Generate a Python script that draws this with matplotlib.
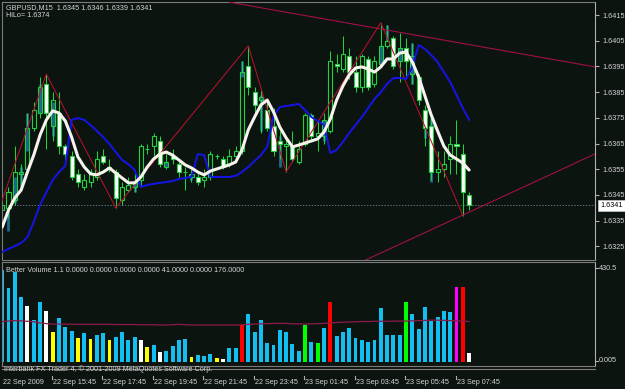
#!/usr/bin/env python3
import matplotlib
matplotlib.use("Agg")
import matplotlib.pyplot as plt
import matplotlib.transforms as mtransforms
from matplotlib.patches import Rectangle
from matplotlib.lines import Line2D

# ---------------- data (GBPUSD M15, bar 0 = 22 Sep 13:45) ----------------

opens = [1.6339, 1.6340, 1.6343, 1.6353, 1.6355, 1.6371, 1.6377, 1.6388, 1.6372, 1.6377,
         1.6364, 1.6360, 1.6353, 1.6348, 1.6350, 1.6352, 1.6360, 1.6356, 1.6354, 1.6343,
         1.6347, 1.6348, 1.6351, 1.6363, 1.6364, 1.6366, 1.6356, 1.6360, 1.6357, 1.6354,
         1.6352, 1.6352, 1.6351, 1.6352, 1.6360, 1.6359, 1.6357, 1.6360, 1.6362, 1.6395,
         1.6385, 1.6382, 1.6378, 1.6372, 1.6366, 1.6364, 1.6364, 1.6358, 1.6365, 1.6376,
         1.6368, 1.6368, 1.6370, 1.6396, 1.6394, 1.6399, 1.6393, 1.6387, 1.6398, 1.6388,
         1.6396, 1.6403, 1.6406, 1.6397, 1.6402, 1.6392, 1.6391, 1.6378, 1.6372, 1.6354,
         1.6355, 1.6359, 1.6365, 1.6361, 1.6345]
highs = [1.6349, 1.6348, 1.6364, 1.6357, 1.6377, 1.6381, 1.6391, 1.6392, 1.6385, 1.6385,
         1.6365, 1.6362, 1.6355, 1.6353, 1.6355, 1.6362, 1.6363, 1.6359, 1.6355, 1.6350,
         1.6352, 1.6354, 1.6365, 1.6365, 1.6369, 1.6368, 1.6362, 1.6363, 1.6359, 1.6356,
         1.6355, 1.6354, 1.6355, 1.6362, 1.6361, 1.6360, 1.6363, 1.6364, 1.6397, 1.6403,
         1.6387, 1.6386, 1.6382, 1.6379, 1.6370, 1.6368, 1.6370, 1.6366, 1.6377, 1.6377,
         1.6374, 1.6377, 1.6401, 1.6400, 1.6407, 1.6402, 1.6399, 1.6400, 1.6399, 1.6399,
         1.6412, 1.6411, 1.6407, 1.6408, 1.6406, 1.6404, 1.6392, 1.6380, 1.6375, 1.6362,
         1.6362, 1.6368, 1.6374, 1.6365, 1.6346]
lows = [1.6330, 1.6336, 1.6341, 1.6348, 1.6353, 1.6370, 1.6375, 1.6363, 1.6366, 1.6361,
        1.6359, 1.6351, 1.6348, 1.6347, 1.6348, 1.6351, 1.6357, 1.6354, 1.6340, 1.6341,
        1.6346, 1.6346, 1.6348, 1.6361, 1.6360, 1.6356, 1.6355, 1.6357, 1.6352, 1.6347,
        1.6350, 1.6349, 1.6348, 1.6351, 1.6359, 1.6355, 1.6356, 1.6359, 1.6361, 1.6384,
        1.6377, 1.6369, 1.6370, 1.6360, 1.6359, 1.6354, 1.6358, 1.6357, 1.6364, 1.6366,
        1.6362, 1.6365, 1.6369, 1.6393, 1.6393, 1.6390, 1.6385, 1.6385, 1.6386, 1.6387,
        1.6395, 1.6402, 1.6394, 1.6389, 1.6390, 1.6388, 1.6380, 1.6364, 1.6351, 1.6350,
        1.6352, 1.6353, 1.6353, 1.6337, 1.6339]
closes = [1.6341, 1.6346, 1.6354, 1.6354, 1.6371, 1.6378, 1.6387, 1.6377, 1.6382, 1.6364,
          1.6361, 1.6352, 1.6350, 1.6351, 1.6353, 1.6359, 1.6358, 1.6355, 1.6344, 1.6348,
          1.6349, 1.6350, 1.6364, 1.6363, 1.6368, 1.6357, 1.6358, 1.6359, 1.6354, 1.6354,
          1.6353, 1.6350, 1.6352, 1.6361, 1.6360, 1.6356, 1.6360, 1.6362, 1.6393, 1.6387,
          1.6380, 1.6383, 1.6371, 1.6362, 1.6365, 1.6365, 1.6359, 1.6363, 1.6376, 1.6368,
          1.6369, 1.6374, 1.6397, 1.6395, 1.6400, 1.6393, 1.6387, 1.6399, 1.6387, 1.6397,
          1.6403, 1.6405, 1.6395, 1.6402, 1.6397, 1.6399, 1.6382, 1.6371, 1.6354, 1.6355,
          1.6357, 1.6365, 1.6364, 1.6346, 1.6341]

# steel-blue overlay bits seen on some bars
teal_bars = [1, 2, 3, 4, 6, 8, 21, 26, 30, 38, 41, 44, 51, 60, 61, 63, 65, 67, 68]
teal_lo = [1.6331, 1.6342, 1.6348, 1.6362, 1.6377, 1.6368, 1.6346, 1.6356, 1.6351, 1.6391,
           1.6370, 1.6356, 1.6366, 1.6395, 1.6405, 1.6397, 1.6388, 1.6367, 1.6350]
teal_hi = [1.6339, 1.6352, 1.6356, 1.6377, 1.6388, 1.6381, 1.6350, 1.6358, 1.6353, 1.6397,
           1.6384, 1.6368, 1.6374, 1.6403, 1.6411, 1.6402, 1.6404, 1.6372, 1.6375]

# white smoothed MA
white_ma = [1.63325, 1.63391, 1.63438, 1.63469, 1.63539, 1.63605, 1.63683, 1.63742, 1.63777, 1.63769,
            1.63738, 1.63675, 1.63598, 1.63559, 1.63532, 1.63528, 1.63539, 1.63555, 1.63535, 1.63516,
            1.63497, 1.63497, 1.63520, 1.63559, 1.63590, 1.63609, 1.63617, 1.63605, 1.63586, 1.63567,
            1.63555, 1.63539, 1.63528, 1.63543, 1.63551, 1.63559, 1.63567, 1.63578, 1.63625, 1.63703,
            1.63753, 1.63800, 1.63819, 1.63773, 1.63714, 1.63672, 1.63637, 1.63644, 1.63652, 1.63660,
            1.63668, 1.63695, 1.63745, 1.63819, 1.63874, 1.63917, 1.63944, 1.63948, 1.63940, 1.63928,
            1.63948, 1.63979, 1.63979, 1.64002, 1.64006, 1.63967, 1.63909, 1.63835, 1.63761, 1.63699,
            1.63640, 1.63605, 1.63590, 1.63574, 1.63547]

# blue HiLo line
hilo = [1.63228, 1.63240, 1.63251, 1.63263, 1.63286, 1.63345, 1.63411, 1.63461, 1.63508, 1.63539,
        1.63563, 1.63742, 1.63749, 1.63742, 1.63722, 1.63699, 1.63675, 1.63648, 1.63617, 1.63586,
        1.63570, 1.63547, 1.63481, 1.63489, 1.63493, 1.63497, 1.63500, 1.63504, 1.63512, 1.63516,
        1.63520, 1.63609, 1.63605, 1.63520, 1.63520, 1.63520, 1.63520, 1.63524, 1.63539, 1.63559,
        1.63582, 1.63605, 1.63637, 1.63757, 1.63792, 1.63796, 1.63800, 1.63804, 1.63780, 1.63753,
        1.63738, 1.63722, 1.63613, 1.63625, 1.63656, 1.63691, 1.63722, 1.63753, 1.63788, 1.63823,
        1.63850, 1.63882, 1.63905, 1.63905, 1.63901, 1.63948, 1.64033, 1.64018, 1.63994, 1.63967,
        1.63928, 1.63889, 1.63839, 1.63788, 1.63742]

zz_bars = [-2, 7, 18, 39, 45, 60, 73]
zz_prices = [1.6329, 1.6392, 1.6340, 1.6403, 1.6354, 1.6412, 1.6337]

upper_bars = [36, 94]
upper_prices = [1.6420, 1.63948]
lower_bars = [57, 94]
lower_prices = [1.6319, 1.6361]

bid = 1.6341
price_ticks = [1.6325, 1.6335, 1.6345, 1.6355, 1.6365, 1.6375, 1.6385, 1.6395, 1.6405, 1.6415]

volumes = [400, 320, 390, 283, 244, 183, 262, 222, 132, 193,
           154, 135, 106, 126, 99, 117, 126, 94, 109, 132,
           96, 109, 94, 64, 74, 44, 46, 70, 94, 101,
           23, 30, 28, 36, 16, 13, 61, 61, 161, 210,
           129, 183, 81, 74, 139, 132, 77, 49, 162, 86,
           84, 146, 260, 112, 132, 149, 103, 97, 86, 94,
           235, 116, 116, 116, 262, 207, 145, 241, 178, 197,
           222, 216, 325, 328, 41]
vol_codes = "bbbbwbbwyb" "bbybybbybb" "bbwybwbbbb" "ybbbywbbrb" "bbbbbbbbgb" \
            "gbrbbbbbbb" "bbbbgbbbbb" "bbmrw"
vol_ma = [176, 178, 180, 179, 177, 175, 170, 167, 165, 165,
          165, 164, 164, 164, 164, 164, 164, 164, 163, 163,
          163, 163, 162, 162, 162, 161, 161, 162, 164, 162,
          161, 161, 161, 161, 161, 161, 161, 161, 162, 164,
          165, 166, 167, 168, 168, 168, 166, 166, 165, 166,
          167, 168, 170, 172, 173, 174, 175, 176, 176, 177,
          177, 177, 178, 178, 178, 179, 180, 181, 182, 182,
          181, 180, 179, 178, 176]

date_bars = [8, 16, 24, 32, 40, 48, 56, 64, 72]
date_labels = ["22 Sep 15:45", "22 Sep 17:45", "22 Sep 19:45", "22 Sep 21:45", "22 Sep 23:45",
               "23 Sep 01:45", "23 Sep 03:45", "23 Sep 05:45", "23 Sep 07:45"]

# ---------------- style ----------------
W, H = 625, 389
BG = "#0c1410"
LIME = "#22d040"
TXT = "#d4d4d4"
FRAME = "#7c7c7c"
FS = 5.2
plt.rcParams["font.family"] = ["Liberation Sans", "DejaVu Sans"]

VCOL = {"b": "#12bff0", "w": "#ffffff", "y": "#ffff00", "r": "#ff0000",
        "g": "#00ff00", "m": "#ff00ff"}


def px_rect(x0, y0, x1, y1):
    return [x0 / W, 1 - y1 / H, (x1 - x0) / W, (y1 - y0) / H]


fig = plt.figure(figsize=(W / 100, H / 100), dpi=100, facecolor=BG)
ax = fig.add_axes(px_rect(2, 2, 595, 260), facecolor=BG)
axv = fig.add_axes(px_rect(2, 262, 595, 366), facecolor=BG)

n = len(opens)
xs = list(range(n))
for a in (ax, axv):
    a.set_xlim(-0.03, 93.95)
    for s in a.spines.values():
        s.set_color(FRAME)
        s.set_linewidth(0.8)
    a.spines["right"].set_color("#b0b0b0")
    a.tick_params(axis="x", bottom=False, labelbottom=False)
ax.spines["top"].set_linestyle((0, (2, 1)))
ax.set_ylim(1.631969, 1.642006)
axv.set_ylim(-17.4, 435)

# price axis on the right
ax.yaxis.tick_right()
ax.set_yticks(price_ticks)
ax.set_yticklabels([f"{p:.4f}" for p in price_ticks])
ax.tick_params(axis="y", length=3, width=0.8, color="#b0b0b0", labelcolor=TXT,
               labelsize=FS, pad=2)
axv.tick_params(axis="y", left=False, right=False, labelleft=False)

# teal overlay
ax.vlines(teal_bars, teal_lo, teal_hi, color="#1d6a8c", lw=2.0, zorder=1.5)

# candles
for i in xs:
    o, h, l, c = opens[i], highs[i], lows[i], closes[i]
    top, bot = max(o, c), min(o, c)
    ax.vlines(i, top, h, color=LIME, lw=0.75, zorder=2)
    ax.vlines(i, l, bot, color=LIME, lw=0.75, zorder=2)
    fc = "none" if c >= o else "white"
    ax.add_patch(Rectangle((i - 0.32, bot), 0.64, top - bot, facecolor=fc,
                           edgecolor=LIME, lw=0.8, zorder=2.2))

# trend lines, zigzag, bid line
ax.plot(upper_bars, upper_prices, color="#a01048", lw=0.8, zorder=3)
ax.plot(lower_bars, lower_prices, color="#a01048", lw=0.8, zorder=3)
ax.plot(zz_bars, zz_prices, color="#b8102c", lw=0.75, zorder=3)
ax.axhline(bid, color="#5a6c7e", lw=0.7, ls=(0, (1.5, 1.5)), zorder=1)

# indicator lines
ax.plot(xs, hilo, color="#1414e8", lw=1.4, zorder=3.5)
ax.plot(xs, white_ma, color="#f6f3ec", lw=2.2, zorder=4, solid_capstyle="round")

# bid price box
bt = mtransforms.blended_transform_factory(ax.transAxes, ax.transData)
ax.text(1.0 + 5.5 / 593, bid, f"{bid:.4f}", transform=bt, ha="left", va="center",
        fontsize=FS, color="black", clip_on=False, zorder=6,
        bbox=dict(boxstyle="square,pad=0.28", fc="white", ec="#c8c8c8", lw=0.5))

# header texts
fig.text(6 / W, 1 - 8 / H, "GBPUSD,M15  1.6345 1.6346 1.6339 1.6341", fontsize=FS,
         color=TXT, ha="left", va="center")
fig.text(6 / W, 1 - 15.5 / H, "HiLo= 1.6374", fontsize=FS, color=TXT, ha="left", va="center")

# ---------------- volume pane ----------------
axv.bar(xs, volumes, width=0.62, color=[VCOL[k] for k in vol_codes], lw=0, zorder=2)
axv.plot(xs, vol_ma, color="#8c1a4a", lw=0.9, zorder=3)
fig.text(6 / W, 1 - 270 / H,
         "Better Volume 1.1 0.0000 0.0000 0.0000 0.0000 41.0000 0.0000 176.0000",
         fontsize=FS, color=TXT, ha="left", va="center")
fig.text(599 / W, 1 - 268 / H, "430.5", fontsize=FS, color=TXT, ha="left", va="center")
fig.text(599 / W, 1 - 361 / H, "0.005", fontsize=FS, color=TXT, ha="left", va="center")
for yy in (268, 361):
    fig.add_artist(Line2D([595 / W, 598 / W], [1 - yy / H, 1 - yy / H], color="#b0b0b0", lw=0.8))

# double border under the volume pane
fig.add_artist(Line2D([2 / W, 595 / W], [1 - 368.5 / H, 1 - 368.5 / H], color=FRAME, lw=0.8))
fig.text(4 / W, 1 - 369.5 / H,
         "Interbank FX Trader 4, \u00a9 2001-2009 MetaQuotes Software Corp.",
         fontsize=FS, color=TXT, ha="left", va="center", zorder=10)

# ---------------- date axis ----------------
dt = mtransforms.blended_transform_factory(axv.transData, fig.transFigure)
axv.text(0.15, 1 - 383 / H, "22 Sep 2009", transform=dt, fontsize=FS, color=TXT,
         ha="left", va="center", clip_on=False)
for b, lab in zip(date_bars, date_labels):
    fig.add_artist(Line2D([b - 0.15, b - 0.15], [1 - 375.5 / H, 1 - 378.5 / H],
                          transform=dt, color="#b0b0b0", lw=0.8))
    axv.text(b + 0.05, 1 - 383 / H, lab, transform=dt, fontsize=FS, color=TXT,
             ha="left", va="center", clip_on=False)

fig.savefig("out.png", dpi=100, facecolor=BG)
